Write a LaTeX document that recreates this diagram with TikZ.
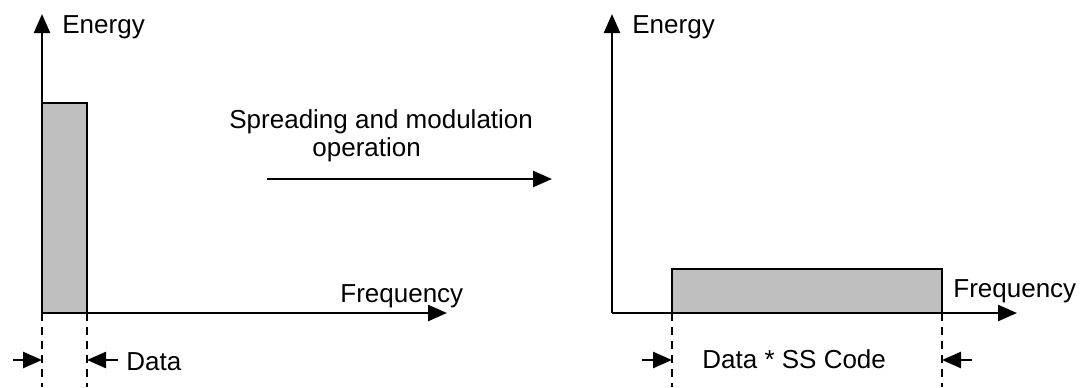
\documentclass[tikz,border=0pt]{standalone}
\usepackage{fontspec}
\setmainfont{Liberation Sans}
\usetikzlibrary{arrows.meta, positioning}

\begin{document}
\begin{tikzpicture}[x=0.5pt, y=-0.5pt, >={Triangle[length=9.5pt,width=8pt]}, axis/.style={->, line width=1.25pt}, guide/.style={line width=0.8pt, dash pattern=on 4pt off 3pt}, band/.style={draw, line width=1.25pt, fill=gray!50}, label node/.style={anchor=base west, inner sep=0pt, font=\fontsize{13}{15}\selectfont}]

  \useasboundingbox (0,0) rectangle (1083,387);

  % Define points of the narrow band
  \coordinate (o1) at (42,313);
  \coordinate (e1) at (42,14);
  \coordinate (f1) at (447,313);
  \coordinate (t1) at (87,103);
  \coordinate (b1) at (87,313);
  \coordinate (d1) at (42,387);
  \coordinate (d2) at (87,387);
  \coordinate (m1) at (13,360);
  \coordinate (m2) at (42,360);
  \coordinate (m3) at (118,360);
  \coordinate (m4) at (87,360);

  % Define points of the spread band
  \coordinate (o2) at (612,313);
  \coordinate (e2) at (612,14);
  \coordinate (f2) at (1017,313);
  \coordinate (s2) at (672,313);
  \coordinate (t2) at (942,269);
  \coordinate (d3) at (672,387);
  \coordinate (d4) at (942,387);
  \coordinate (m5) at (642,360);
  \coordinate (m6) at (672,360);
  \coordinate (m7) at (972,360);
  \coordinate (m8) at (942,360);

  % Define the operation arrow
  \coordinate (a1) at (267,179);
  \coordinate (a2) at (552,179);

  % Bands
  \draw[band] (o1) rectangle (t1);
  \draw[band] (s2) rectangle (t2);

  % Labels
  \node[label node] (en1) at (62,33) {Energy};
  \node[label node] (fr1) at (340,302) {Frequency};
  \node[label node] (da1) at (126,370) {Data};
  \node[label node] (en2) at (632,33) {Energy};
  \node[label node] (fr2) at (953,297) {Frequency};
  \node[label node] (da2) at (702,368) {Data * SS Code};
  \node[label node] (op1) at (229,128) {Spreading and modulation};
  \node[label node] (op2) at (312,156) {operation};

  % Axes and arrows
  \path[axis]
    (o1) edge (e1)
    (o1) edge (f1)
    (o2) edge (e2)
    (o2) edge (f2)
    (a1) edge (a2)
    (m1) edge (m2)
    (m3) edge (m4)
    (m5) edge (m6)
    (m7) edge (m8);

  % Dashed guides
  \path[guide]
    (o1) edge (d1)
    (b1) edge (d2)
    (s2) edge (d3)
    (t2 |- o2) edge (d4);
\end{tikzpicture}
\end{document}
